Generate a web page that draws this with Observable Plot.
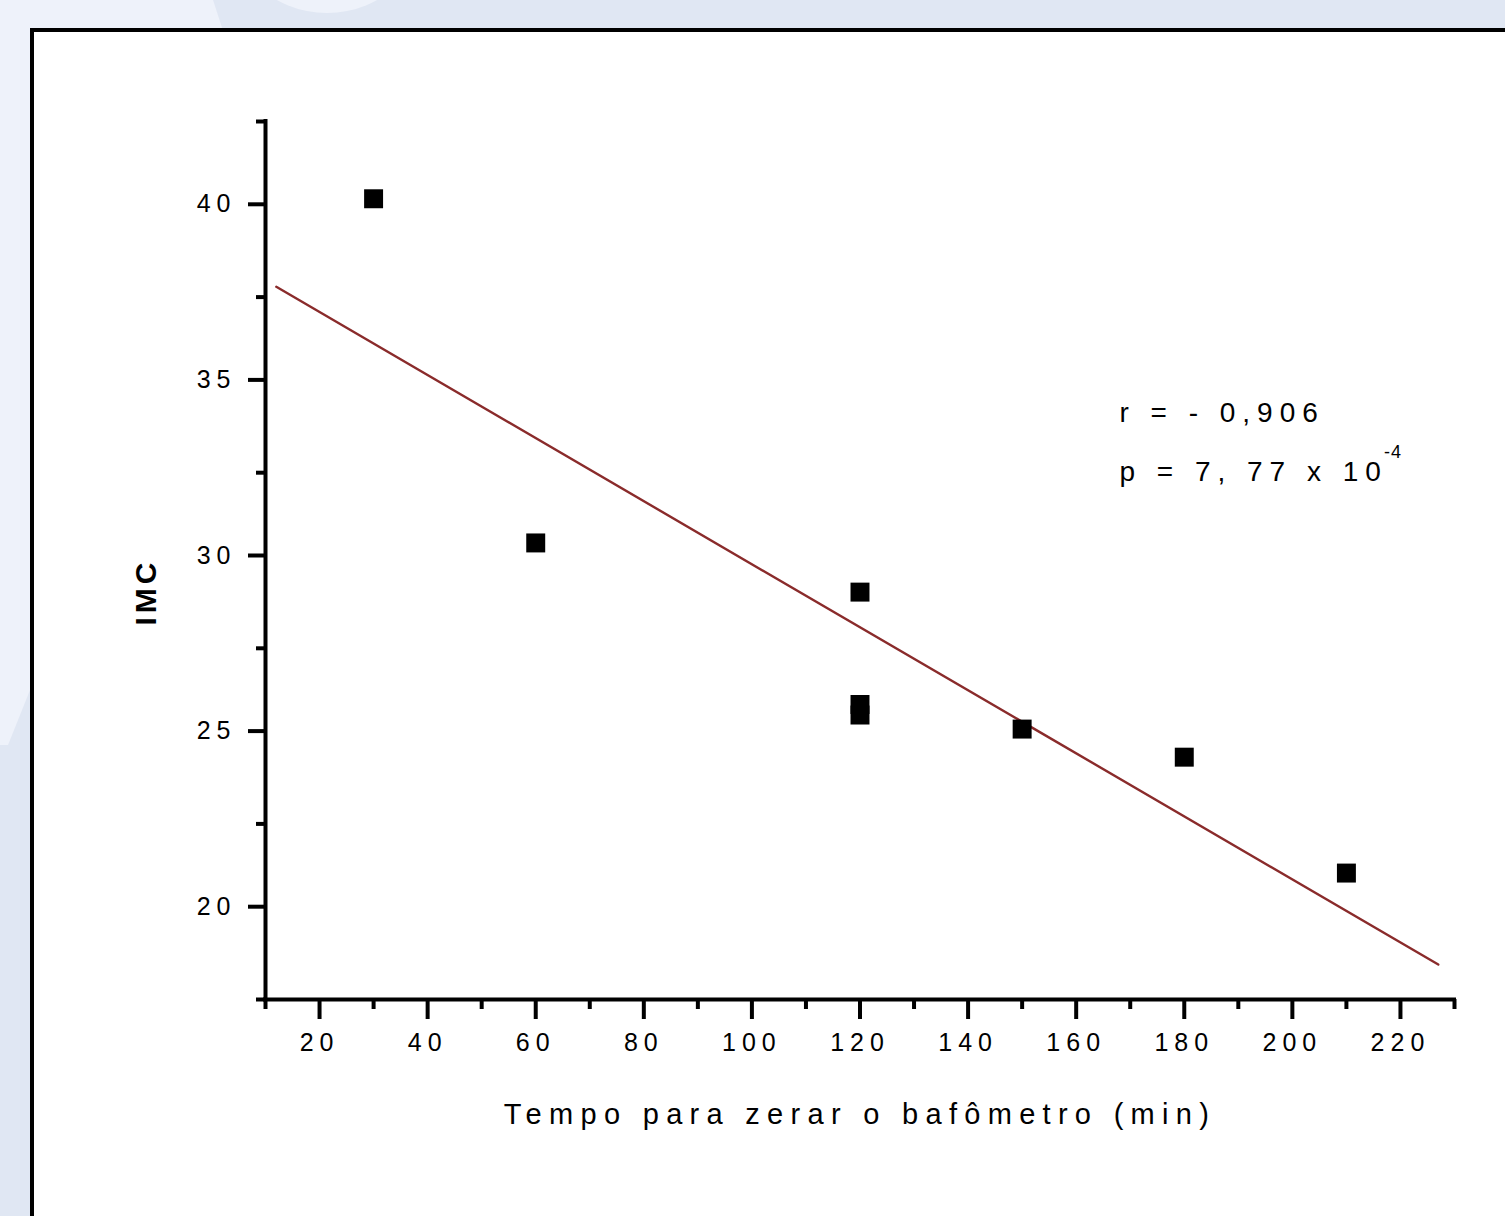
<!DOCTYPE html>
<html>
<head>
<meta charset="utf-8">
<script src="https://cdn.jsdelivr.net/npm/d3@7"></script>
<script src="https://cdn.jsdelivr.net/npm/@observablehq/plot@0.6"></script>
<style>
  html, body { margin: 0; padding: 0; }
  body { width: 1505px; height: 1216px; overflow: hidden; position: relative; background: #e0e7f3; font-family: "Liberation Sans", Arial, sans-serif; }
  #bgLight { position: absolute; left: 0; top: 0; width: 400px; height: 800px; background: #eef2fa;
    clip-path: polygon(0 0, 213px 0, 226px 40px, 30px 690px, 8px 745px, 0 745px); }
  #bgCircle { position: absolute; left: 224px; top: -193px; width: 206px; height: 206px; border-radius: 50%; background: #eef2fa; }
  #panel { position: absolute; left: 30px; top: 28px; width: 1600px; height: 1400px; border: 4px solid #000; background: #fff; }
  #chart { position: absolute; left: 0; top: 0; }
</style>
</head>
<body>
<div id="bgLight"></div>
<div id="bgCircle"></div>
<div id="panel"></div>
<div id="chart"></div>
<script>
// ---- data ----
const timeMin = [30, 60, 120, 120, 120, 150, 180, 210];
const imc = [40.3, 30.5, 29.1, 25.9, 25.6, 25.2, 24.4, 21.1];

const xMajorTicks = [20, 40, 60, 80, 100, 120, 140, 160, 180, 200, 220];
const xMinorTicks = [10, 30, 50, 70, 90, 110, 130, 150, 170, 190, 210, 230];
const yMajorTicks = [20, 25, 30, 35, 40];
const yMinorTicks = [17.5, 22.5, 27.5, 32.5, 37.5, 42.5];
const xDomain = [10, 230];
const yDomain = [17.5, 42.5];

const fitRange = [12, 227];

const xLabel = "Tempo para zerar o bafômetro (min)";
const yLabel = "IMC";
const annotationLines = ["r = - 0,906", "p = 7, 77 x 10"];
const annotationExponent = "-4";
const annotationX = [168];
const annotationY = [32.25];

// ---- derived ----
const points = timeMin.map((t, i) => ({x: t, y: imc[i]}));
const mx = d3.mean(timeMin), my = d3.mean(imc);
const sxy = d3.sum(points, d => (d.x - mx) * (d.y - my));
const sxx = d3.sum(points, d => (d.x - mx) ** 2);
const slope = sxy / sxx;
const intercept = my - slope * mx;
const fitPoints = fitRange.map(x => ({x, y: intercept + slope * x}));
const annotation = annotationX.map((x, i) => ({x, y: annotationY[i], text: annotationLines.join("\n")}));

const fontFamily = "'Liberation Sans', Arial, sans-serif";

const chart = Plot.plot({
  width: 1505,
  height: 1216,
  marginLeft: 265,
  marginRight: 51,
  marginTop: 121,
  marginBottom: 217,
  x: {domain: xDomain},
  y: {domain: yDomain},
  style: {background: "transparent", fontFamily, color: "#000", overflow: "visible"},
  marks: [
    // minor ticks
    Plot.axisX({ticks: xMinorTicks, tickSize: 10, strokeWidth: 4, tickFormat: () => "", label: null}),
    Plot.axisY({ticks: yMinorTicks, tickSize: 9, strokeWidth: 4, tickFormat: () => "", label: null}),
    // major ticks with labels
    Plot.axisX({ticks: xMajorTicks, tickSize: 20, tickPadding: 14, strokeWidth: 4, fontSize: 25, label: null}),
    Plot.axisY({ticks: yMajorTicks, tickSize: 17, tickPadding: 12, strokeWidth: 4, fontSize: 25, dy: -5, label: null}),
    // axis lines
    Plot.ruleY([yDomain[0]], {stroke: "#000", strokeWidth: 4, strokeLinecap: "square"}),
    Plot.ruleX([xDomain[0]], {stroke: "#000", strokeWidth: 4, strokeLinecap: "square"}),
    // fit line
    Plot.line(fitPoints, {x: "x", y: "y", stroke: "#8a2b2b", strokeWidth: 2.4}),
    // points
    Plot.dot(points, {x: "x", y: "y", symbol: "square", r: 10.7, fill: "#000"}),
    // titles
    Plot.text([yLabel], {frameAnchor: "left", rotate: -90, dx: -119, dy: 65, fontSize: 30, fontWeight: "bold"}),
    Plot.text([xLabel], {frameAnchor: "bottom", dy: 124, lineAnchor: "bottom", fontSize: 29}),
    // annotation
    Plot.text(annotation, {x: "x", y: "y", text: "text", textAnchor: "start", lineAnchor: "bottom", lineHeight: 2.14, fontSize: 28})
  ]
});

document.getElementById("chart").appendChild(chart);

const svg = d3.select(chart);
svg.selectAll('g[aria-label="x-axis tick label"] text, g[aria-label="y-axis tick label"] text')
  .style("letter-spacing", "6px");
svg.selectAll("text").filter(function () { return this.textContent === xLabel; })
  .style("letter-spacing", "7.3px");
svg.selectAll("text").filter(function () { return this.textContent === yLabel; })
  .style("letter-spacing", "4px");
const annText = svg.selectAll("text").filter(function () { return this.textContent.includes(annotationLines[1]); });
annText.style("letter-spacing", "7px");
annText.append("tspan")
  .attr("dy", "-23px")
  .attr("dx", "-4")
  .style("font-size", "18px")
  .style("letter-spacing", "1px")
  .text(annotationExponent);
</script>
</body>
</html>
